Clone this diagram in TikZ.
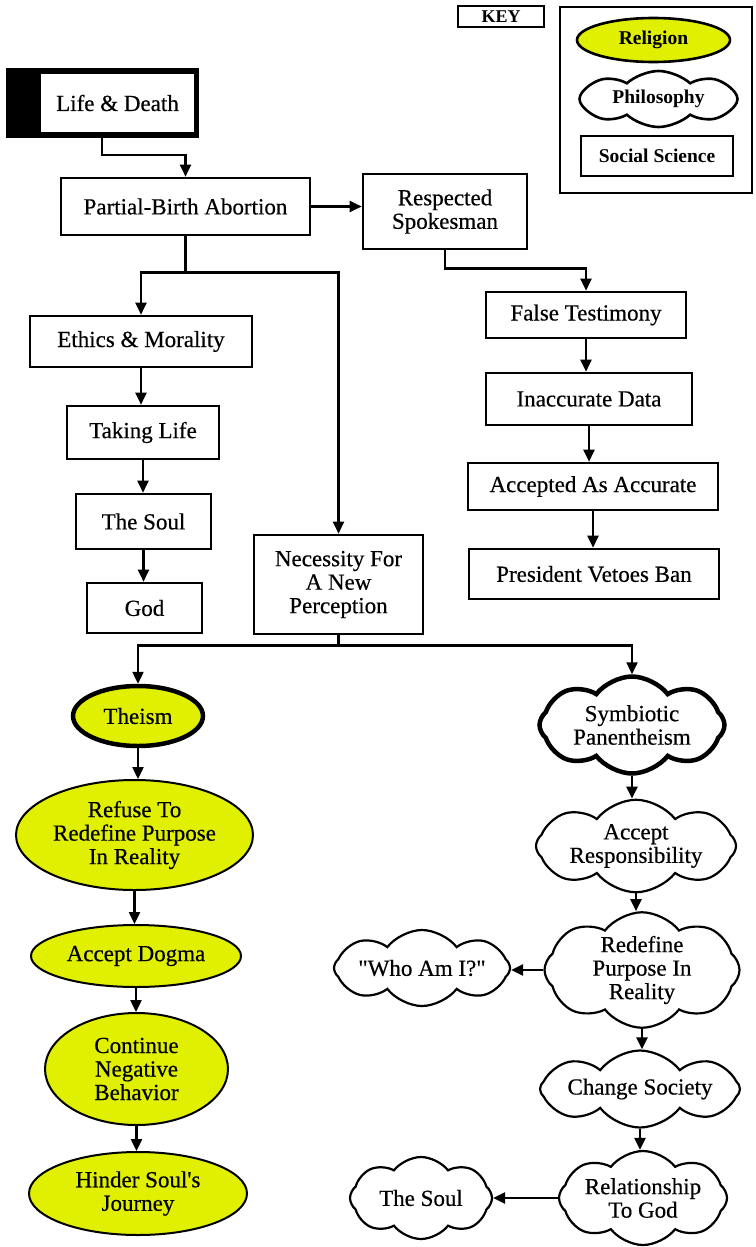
\documentclass[tikz,border=0pt]{standalone}
\usepackage{fontspec}
\setmainfont{Liberation Serif}
\newfontfamily\nodefont{Liberation Serif}[FakeBold=0.45]
\usetikzlibrary{shapes.geometric,shapes.symbols,arrows.meta}
\definecolor{relyellow}{RGB}{224,240,0}
\begin{document}
\begin{tikzpicture}[x=1pt,y=-1pt,
 every node/.style={font=\nodefont\fontsize{23}{23.5}\selectfont, align=center, inner sep=0pt},
 sbox/.style={draw, line width=2.6pt, rectangle},
 rel/.style={ellipse, draw, line width=2pt, fill=relyellow},
 phil/.style={cloud, cloud puffs=8, cloud puff arc=105, cloud ignores aspect, draw, line width=2.2pt, fill=white},
 arr/.style={line width=2.4pt, -{Triangle[length=12pt,width=11pt]}},
 keytext/.style={font=\rmfamily\bfseries\fontsize{19.5}{22}\selectfont}]
\useasboundingbox[fill=white] (0,0) rectangle (755,1247);

% ---------- key ----------
\node[draw, line width=1.5pt, minimum width=86pt, minimum height=21pt, font=\rmfamily\bfseries\fontsize{18}{20}\selectfont] (keylbl) at (501,16.5) {KEY};
\node[draw, line width=1.5pt, minimum width=192pt, minimum height=186pt] (keyframe) at (656,100) {};
\node[rel, line width=2.6pt, minimum width=153pt, minimum height=44pt, keytext] (krel) at (653.5,40) {Religion};
\node[phil, cloud puff arc=85, line width=2.6pt, minimum width=158pt, minimum height=56pt, keytext] (kphil) at (658.5,99) {Philosophy};
\node[sbox, minimum width=152pt, minimum height=40pt, keytext] (ksoc) at (657,156) {Social Science};

% ---------- top boxes ----------
\node[fill=black, minimum width=193pt, minimum height=70pt] (life) at (102,103) {};
\node[fill=white, minimum width=153pt, minimum height=58pt] (lifetext) at (117.5,103) {Life \& Death};
\node[sbox, minimum width=249pt, minimum height=57pt] (pba) at (185.5,206.5) {Partial-Birth Abortion};
\node[sbox, minimum width=164pt, minimum height=75pt] (rs) at (445,211.5) {Respected\\Spokesman};
\node[sbox, minimum width=200pt, minimum height=46pt] (ft) at (586,315) {False Testimony};
\node[sbox, minimum width=206pt, minimum height=52pt] (id) at (589,399) {Inaccurate Data};
\node[sbox, minimum width=250pt, minimum height=47pt] (aaa) at (593,486.5) {Accepted As Accurate};
\node[sbox, minimum width=250pt, minimum height=50pt] (pvb) at (594,574) {President Vetoes Ban};

\node[sbox, minimum width=222pt, minimum height=51pt] (eth) at (141,341.5) {Ethics \& Morality};
\node[sbox, minimum width=152pt, minimum height=53pt] (tl) at (143,432.5) {Taking Life};
\node[sbox, minimum width=135pt, minimum height=55pt] (soul) at (143.5,521.5) {The Soul};
\node[sbox, minimum width=115pt, minimum height=50pt] (god) at (144.5,608) {God};
\node[sbox, minimum width=169pt, minimum height=99pt] (nec) at (338.5,584.5) {Necessity For\\A New\\Perception};

% ---------- religion column ----------
\node[rel, line width=4.5pt, minimum width=130pt, minimum height=60pt] (theism) at (138,716) {Theism};
\node[rel, minimum width=237pt, minimum height=110pt] (refuse) at (134.5,835) {Refuse To\\Redefine Purpose\\In Reality};
\node[rel, minimum width=210pt, minimum height=62pt] (dogma) at (136,956) {Accept Dogma};
\node[rel, minimum width=183pt, minimum height=112pt] (cont) at (136.5,1069) {Continue\\Negative\\Behavior};
\node[rel, minimum width=218pt, minimum height=83pt] (hinder) at (138,1193.5) {Hinder Soul\char39 s\\Journey};

% ---------- philosophy column ----------
\node[phil, line width=4.5pt, minimum width=185pt, minimum height=97pt] (symb) at (632,725) {Symbiotic\\Panentheism};
\node[phil, minimum width=200pt, minimum height=78pt] (accr) at (636,846) {Accept\\Responsibility};
\node[phil, minimum width=195pt, minimum height=115pt] (redef) at (642,970) {Redefine\\Purpose In\\Reality};
\node[phil, minimum width=176pt, minimum height=76pt] (who) at (422,968) {\char34 Who Am I?\char34};
\node[phil, minimum width=200pt, minimum height=77pt] (change) at (640,1089) {Change Society};
\node[phil, minimum width=168pt, minimum height=94pt] (rel) at (643,1198) {Relationship\\To God};
\node[phil, minimum width=142pt, minimum height=82pt] (soulr) at (421,1198) {The Soul};

% ---------- connectors ----------
\draw[arr] (life.south) -- ++(0,17) -| (pba.north);
\draw[arr] (pba.east) -- (pba.east -| rs.west);
\draw[arr] (rs.south) -- ++(0,18) -| (ft.north);
\draw[arr] (ft.south) -- (ft.south |- id.north);
\draw[arr] (id.south) -- (id.south |- aaa.north);
\draw[arr] (aaa.south) -- (aaa.south |- pvb.north);

\draw[arr] (pba.south) -- ++(0,36) -| (eth.north);
\draw[arr] (pba.south) -- ++(0,36) -| (nec.north);
\draw[arr] (eth.south) -- (eth.south |- tl.north);
\draw[arr] (tl.south) -- (tl.south |- soul.north);
\draw[arr] (soul.south) -- (soul.south |- god.north);

\draw[arr] (nec.south) -- ++(0,10) -| (theism.north);
\draw[arr] (nec.south) -- ++(0,10) -| (symb.north);
\draw[arr] (theism.south) -- (theism.south |- refuse.north);
\draw[arr] (refuse.south) -- (refuse.south |- dogma.north);
\draw[arr] (dogma.south) -- (dogma.south |- cont.north);
\draw[arr] (cont.south) -- (cont.south |- hinder.north);

\draw[arr] (symb.south) -- (symb.south |- accr.north);
\draw[arr] (accr.south) -- (accr.south |- redef.north);
\draw[arr] (redef.west) -- (redef.west -| who.east);
\draw[arr] (redef.south) -- (redef.south |- change.north);
\draw[arr] (change.south) -- (change.south |- rel.north);
\draw[arr] (rel.west) -- (rel.west -| soulr.east);
\end{tikzpicture}
\end{document}
